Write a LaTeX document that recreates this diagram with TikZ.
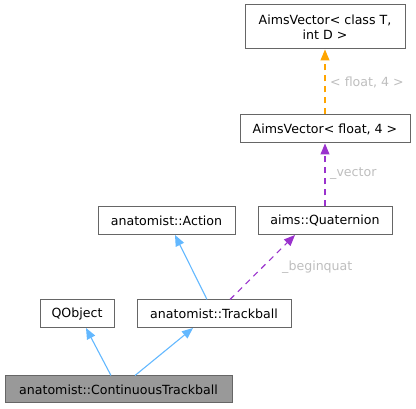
\documentclass[tikz,border=0pt]{standalone}
\usepackage{fontspec}
\setmainfont{DejaVu Sans}
\usetikzlibrary{arrows.meta}
\definecolor{edgeblue}{HTML}{63B8FF}
\definecolor{edgepurple}{HTML}{9A32CD}
\definecolor{edgeorange}{HTML}{FFA500}
\definecolor{lblgrey}{HTML}{BEBEBE}
\definecolor{boxborder}{HTML}{666666}
\definecolor{mainfill}{HTML}{999999}
\begin{document}
\begin{tikzpicture}[x=1pt,y=-1pt,
  cls/.style={draw=boxborder, line width=1pt, fill=white, inner sep=0pt, font=\fontsize{12.6}{15}\selectfont, align=center},
  inh/.style={draw=edgeblue, line width=1.1pt, -{Triangle[length=11pt,width=9pt]}},
  use/.style={draw=edgepurple, line width=1.1pt, dash pattern=on 6pt off 5pt, -{Triangle[length=11pt,width=9pt]}},
  tmpl/.style={draw=edgeorange, line width=1.1pt, dash pattern=on 6pt off 5pt, -{Triangle[length=11pt,width=9pt]}},
  lbl/.style={text=lblgrey, font=\fontsize{12.6}{15}\selectfont, anchor=west, inner sep=0pt}]
\useasboundingbox (0,0) rectangle (416,409);
\node[cls, minimum width=160pt, minimum height=44pt] (avtd) at (325,27) {AimsVector< class T,\\int D >};
\node[cls, minimum width=170pt, minimum height=28pt] (avf4) at (325,129) {AimsVector< float, 4 >};
\node[cls, minimum width=134pt, minimum height=28pt] (quat) at (325,221) {aims::Quaternion};
\node[cls, minimum width=137pt, minimum height=28pt] (action) at (166.5,221) {anatomist::Action};
\node[cls, minimum width=74pt, minimum height=28pt] (qobj) at (77,314) {QObject};
\node[cls, minimum width=154pt, minimum height=28pt] (track) at (214,314) {anatomist::Trackball};
\node[cls, fill=mainfill, minimum width=227pt, minimum height=27pt] (cont) at (118.5,389.5) {anatomist::ContinuousTrackball};
\draw[inh] (cont.north -| 111,0) -- (86,328);
\draw[inh] (cont.north -| 135,0) -- (193,328);
\draw[inh] (track.north -| 207,0) -- (175,235);
\draw[use] (track.north -| 230,0) -- (295,235);
\draw[use] (quat.north) -- (avf4.south);
\draw[tmpl] (avf4.north) -- (avtd.south);
\node[lbl] (l1) at (282,267) {\_beginquat};
\node[lbl] (l2) at (330,174) {\_vector};
\node[lbl] (l3) at (330,82) {< float, 4 >};
\end{tikzpicture}
\end{document}
